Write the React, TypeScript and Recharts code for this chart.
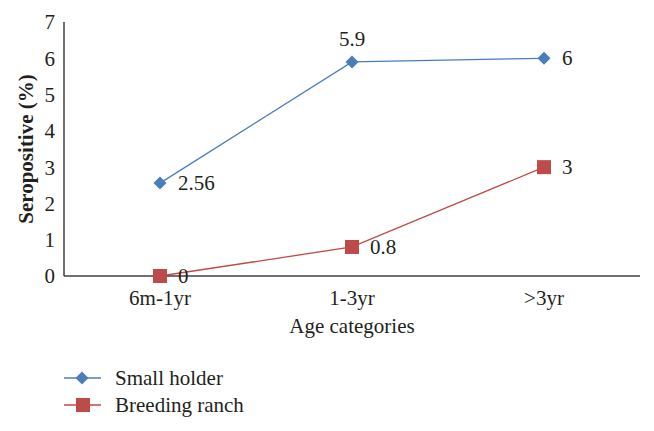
import React from 'react';
import { LineChart, Line, XAxis, YAxis, LabelList } from 'recharts';

const categories = ['6m-1yr', '1-3yr', '>3yr'];
const smallHolder = [2.56, 5.9, 6];
const breedingRanch = [0, 0.8, 3];
const smallHolderLabelPos = ['right', 'top', 'right'];
const breedingRanchLabelPos = ['right', 'right', 'right'];
const yTicks = [0, 1, 2, 3, 4, 5, 6, 7];

const data = categories.map((c, i) => ({ cat: c, small: smallHolder[i], breeding: breedingRanch[i] }));

const BLUE = '#4a7ebb';
const RED = '#be4b48';
const FONT = "'Times New Roman', Tinos, 'Liberation Serif', 'DejaVu Serif', serif";
const TEXT = '#231f20';

const Diamond = (props: any) => {
  const { cx, cy } = props;
  if (cx == null || cy == null) return null;
  const r = 6.5;
  return <path d={`M${cx},${cy - r}L${cx + r},${cy}L${cx},${cy + r}L${cx - r},${cy}Z`} fill={BLUE} />;
};
const Square = (props: any) => {
  const { cx, cy } = props;
  if (cx == null || cy == null) return null;
  const s = 7;
  return <rect x={cx - s} y={cy - s} width={2 * s} height={2 * s} fill={RED} />;
};

const makeLabel = (positions: string[]) => (props: any) => {
  const { x, y, value, index } = props;
  const pos = positions[index];
  if (pos === 'top') {
    return (
      <text x={x} y={y - 16} textAnchor="middle" style={{ fontFamily: FONT, fontSize: 21 }} fill={TEXT}>
        {value}
      </text>
    );
  }
  return (
    <text x={x + 18} y={y + 7} textAnchor="start" style={{ fontFamily: FONT, fontSize: 21 }} fill={TEXT}>
      {value}
    </text>
  );
};

export default function App() {
  return (
    <div style={{ position: 'absolute', left: 0, top: 0, width: 654, height: 431, background: '#fff', fontFamily: FONT }}>
      <LineChart width={654} height={431} data={data} margin={{ top: 22, right: 14, left: 14, bottom: 95 }} style={{ fontFamily: FONT }}>
        <XAxis
          dataKey="cat"
          height={60}
          padding={{ left: 96, right: 96 }}
          tickLine={false}
          tickMargin={8}
          axisLine={{ stroke: '#404040', strokeWidth: 1.5 }}
          tick={{ fontFamily: FONT, fontSize: 21, fill: TEXT }}
          label={{ value: 'Age categories', position: 'insideBottom', offset: 3, fontFamily: FONT, fontSize: 21, fill: TEXT }}
        />
        <YAxis
          width={50}
          domain={[0, 7]}
          ticks={yTicks}
          interval={0}
          tickLine={false}
          tickMargin={3}
          axisLine={{ stroke: '#404040', strokeWidth: 1.5 }}
          tick={{ fontFamily: FONT, fontSize: 21, fill: TEXT }}
          label={{ value: 'Seropositive (%)', angle: -90, position: 'center', dx: -13, fontFamily: FONT, fontSize: 21, fontWeight: 'bold', fill: TEXT }}
        />
        <Line
          dataKey="small"
          stroke={BLUE}
          strokeWidth={1.3}
          dot={<Diamond />}
          activeDot={false}
          isAnimationActive={false}
        >
          <LabelList dataKey="small" content={makeLabel(smallHolderLabelPos)} />
        </Line>
        <Line
          dataKey="breeding"
          stroke={RED}
          strokeWidth={1.3}
          dot={<Square />}
          activeDot={false}
          isAnimationActive={false}
        >
          <LabelList dataKey="breeding" content={makeLabel(breedingRanchLabelPos)} />
        </Line>
      </LineChart>
      <svg width={654} height={431} style={{ position: 'absolute', left: 0, top: 0, pointerEvents: 'none', fontFamily: FONT }}>
        <line x1={64} x2={101} y1={378} y2={378} stroke={BLUE} strokeWidth={1.3} />
        <Diamond cx={82} cy={378} />
        <text x={115} y={385} style={{ fontFamily: FONT, fontSize: 21 }} fill={TEXT}>Small holder</text>
        <line x1={64} x2={101} y1={405} y2={405} stroke={RED} strokeWidth={1.3} />
        <Square cx={83} cy={405} />
        <text x={115} y={412} style={{ fontFamily: FONT, fontSize: 21 }} fill={TEXT}>Breeding ranch</text>
      </svg>
    </div>
  );
}
